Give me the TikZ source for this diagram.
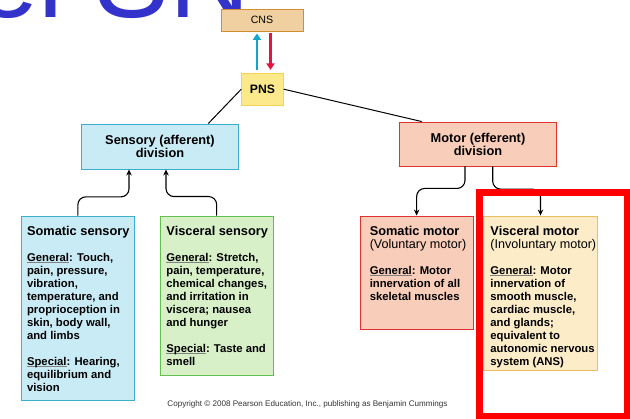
\documentclass[tikz,border=0pt]{standalone}
\usepackage{fontspec}
\setmainfont{Liberation Sans}
\usetikzlibrary{arrows.meta}

\definecolor{titleblue}{HTML}{3333CC}
\definecolor{cnsfill}{HTML}{F0D0A0}
\definecolor{cnsdraw}{HTML}{D78C32}
\definecolor{pnsfill}{HTML}{FCE98C}
\definecolor{pnsdraw}{HTML}{F2D450}
\definecolor{sensfill}{HTML}{C8EBF5}
\definecolor{sensdraw}{HTML}{3CAFCD}
\definecolor{viscfill}{HTML}{D7F0C8}
\definecolor{viscdraw}{HTML}{64BE50}
\definecolor{motfill}{HTML}{F8CDB9}
\definecolor{motdraw}{HTML}{E13232}
\definecolor{autofill}{HTML}{FCECC8}
\definecolor{autodraw}{HTML}{EBBE64}
\definecolor{afferent}{HTML}{14A5C8}
\definecolor{efferent}{HTML}{E6143C}

\newlength{\kwordwidth}
\newcommand{\grouphead}[1]{{\fontsize{12.8}{13}\selectfont #1}}
\newcommand{\groupsub}[1]{{\mdseries\fontsize{12.6}{13}\selectfont #1}}
\newcommand{\kword}[1]{\settowidth{\kwordwidth}{#1}%
    \rlap{\textcolor{black!50}{\rule[-1.9pt]{\kwordwidth}{0.6pt}}}#1}

\tikzset{
    pns diagram/.style = {x=1pt, y=-1pt, >={Stealth[length=6pt, width=5.5pt]}},
    box/.style         = {draw, line width=0.9pt, inner sep=0pt},
    divbox/.style      = {box, align=center,
                          font=\fontsize{12.8}{11.8}\selectfont\bfseries},
    bodytext/.style    = {anchor=north west, inner sep=0pt, align=left,
                          font=\fontsize{11.3}{13}\selectfont\bfseries},
    conn/.style        = {->, line width=1.1pt, rounded corners=8pt},
    feed/.style        = {-{Triangle[length=6.5pt, width=8pt]}, line width=2.8pt},
    highlight/.style   = {draw=red, line width=6.5pt},
    slidetitle/.style  = {inner sep=0pt, text=titleblue,
                          font=\fontsize{112}{112}\selectfont},
    copyright/.style   = {inner sep=0pt, text=black!80,
                          font=\fontsize{8.1}{9}\selectfont}
}

\begin{document}
\begin{tikzpicture}[pns diagram]
\useasboundingbox (0,0) rectangle (630,419);

% ================= Slide title, cut off at the top =================
\begin{scope}
\clip (0,0) rectangle (630,419);
\node[slidetitle, anchor=base east] (title) at (250.5,17.3) {el SN};
\end{scope}

% ================= CNS and PNS =================
\node[box, fill=cnsfill, draw=cnsdraw, minimum width=82pt, minimum height=22pt,
      font=\fontsize{10.6}{12}\selectfont] (cns) at (262,20) {CNS};
\node[box, fill=pnsfill, draw=pnsdraw, minimum width=41.6pt, minimum height=31.7pt,
      font=\fontsize{12.2}{14}\selectfont\bfseries] (pns) at (262.5,89.2) {PNS};
\draw[feed, afferent, shorten <=2.6pt, shorten >=2pt]
    ([xshift=-5.5pt]pns.north) -- ([xshift=-5.5pt]pns.north |- cns.south);
\draw[feed, efferent, shorten <=2pt, shorten >=3pt]
    ([xshift=8.5pt]cns.south) -- ([xshift=8.5pt]cns.south |- pns.north);

% ================= Divisions =================
\node[divbox, fill=sensfill, draw=sensdraw, minimum width=156.6pt, minimum height=45pt]
    (sensory) at (160,146.5) {Sensory (afferent)\\division};
\node[divbox, fill=motfill, draw=motdraw, minimum width=157.4pt, minimum height=44pt]
    (motor) at (478,144) {Motor (efferent)\\division};
\draw[line width=1pt] (pns.west) -- ([xshift=48.3pt]sensory.north);
\draw[line width=1pt] (pns.east) -- ([xshift=-56.3pt]motor.north);

% ================= Sensory groups =================
\node[box, fill=sensfill, draw=sensdraw, minimum width=112.3pt, minimum height=184pt]
    (somsens) at (77.85,308) {};
\node[bodytext] (somsenstext) at ([xshift=5.6pt, yshift=-10pt]somsens.north west)
    {\grouphead{Somatic sensory}\\[13pt]
     \kword{General}: Touch,\\ pain, pressure,\\ vibration,\\ temperature, and\\
     proprioception in\\ skin, body wall,\\ and limbs\\[13pt]
     \kword{Special}: Hearing,\\ equilibrium and\\ vision};
\node[box, fill=viscfill, draw=viscdraw, minimum width=113.3pt, minimum height=159pt]
    (viscsens) at (216.65,295.5) {};
\node[bodytext] (viscsenstext) at ([xshift=6.7pt, yshift=-10pt]viscsens.north west)
    {\grouphead{Visceral sensory}\\[13pt]
     \kword{General}: Stretch,\\ pain, temperature,\\ chemical changes,\\
     and irritation in\\ viscera; nausea\\ and hunger\\[13pt]
     \kword{Special}: Taste and\\ smell};
\draw[conn] (somsens.north) -- ++(0,-18.7) -| ([xshift=-31pt]sensory.south);
\draw[conn] (viscsens.north) -- ++(0,-19) -| ([xshift=6pt]sensory.south);

% ================= Motor groups =================
\node[box, fill=motfill, draw=motdraw, minimum width=113.3pt, minimum height=113.3pt]
    (sommot) at (416.65,272.65) {};
\node[bodytext] (sommottext) at ([xshift=10pt, yshift=-10pt]sommot.north west)
    {\grouphead{Somatic motor}\\ \groupsub{(Voluntary motor)}\\[13pt]
     \kword{General}: Motor\\ innervation of all\\ skeletal muscles};
\node[box, fill=autofill, draw=autodraw, minimum width=114.4pt, minimum height=154.7pt]
    (viscmot) at (540.5,293.35) {};
\node[bodytext] (viscmottext) at ([xshift=7.4pt, yshift=-10pt]viscmot.north west)
    {\grouphead{Visceral motor}\\ \groupsub{(Involuntary motor)}\\[13pt]
     \kword{General}: Motor\\ innervation of\\ smooth muscle,\\ cardiac muscle,\\
     and glands;\\ equivalent to\\ autonomic nervous\\ system (ANS)};
\draw[conn] ([xshift=-13pt]motor.south) -- ++(0,22) -| (sommot.north);
\draw[conn] ([xshift=14.7pt]motor.south) -- ++(0,22.7) -| (viscmot.north);

% ================= Highlight and credit =================
\draw[highlight] (479.5,192.5) rectangle (627,416);
\node[copyright] (credit) at (307.5,404.3)
    {Copyright \textcopyright{} 2008 Pearson Education, Inc., publishing as Benjamin Cummings};

\end{tikzpicture}
\end{document}
